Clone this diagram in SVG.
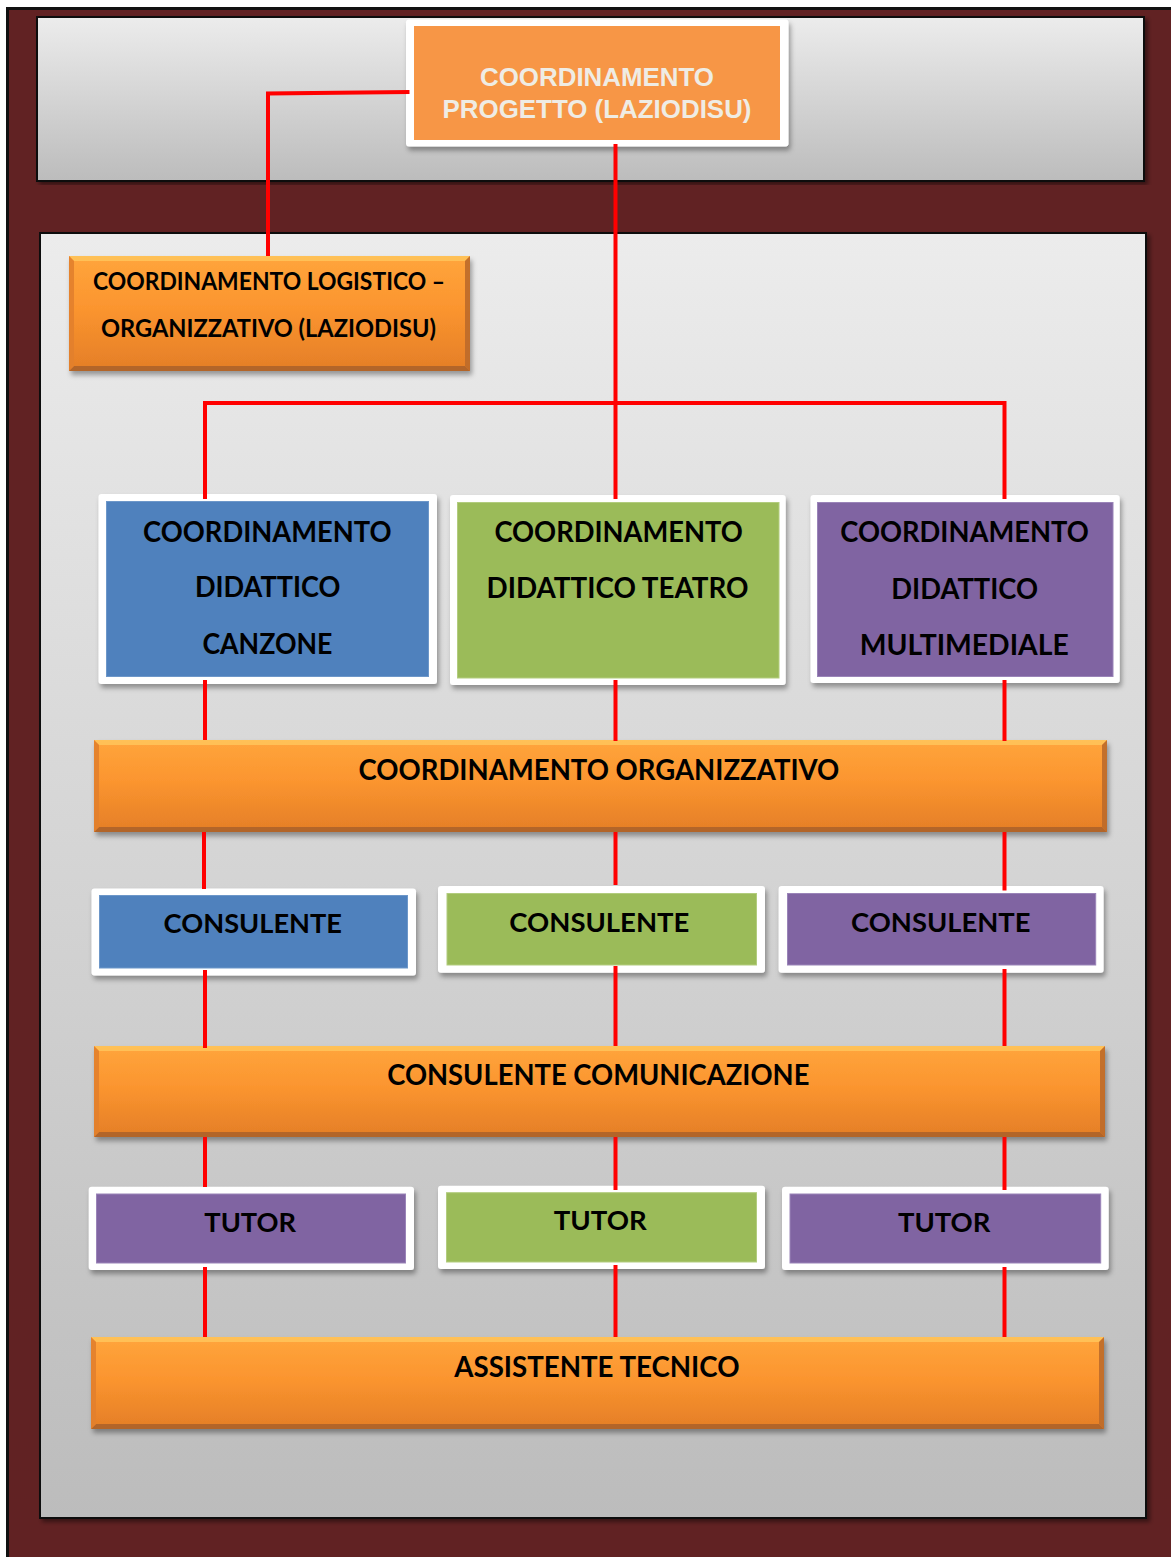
<svg xmlns="http://www.w3.org/2000/svg" width="1171" height="1557" viewBox="0 0 1171 1557">
<defs>
<linearGradient id="panelGrad" x1="0" y1="0" x2="0" y2="1">
<stop offset="0" stop-color="#ececec"/>
<stop offset="1" stop-color="#bcbcbc"/>
</linearGradient>
<linearGradient id="barGrad" x1="0" y1="0" x2="0" y2="1">
<stop offset="0" stop-color="#ffa53c"/>
<stop offset="0.45" stop-color="#fb952f"/>
<stop offset="1" stop-color="#e47e27"/>
</linearGradient>
<filter id="shadow" x="-5%" y="-10%" width="110%" height="130%">
<feDropShadow dx="2" dy="4" stdDeviation="2.5" flood-color="#000" flood-opacity="0.35"/>
</filter>
<filter id="panelShadow" x="-2%" y="-2%" width="104%" height="104%">
<feDropShadow dx="3" dy="3" stdDeviation="2" flood-color="#000" flood-opacity="0.45"/>
</filter>
</defs>
<style>
.panel{fill:url(#panelGrad);stroke:#111;stroke-width:2;filter:url(#panelShadow)}
.frame{fill:#fff;filter:url(#shadow)}
.blue{fill:#4f81bd;stroke:#6d97c9;stroke-width:1}
.green{fill:#9bbb59;stroke:#b2cc7e;stroke-width:1}
.purple{fill:#8064a2;stroke:#9a84b8;stroke-width:1}
.bar{fill:url(#barGrad);filter:url(#shadow)}
.bt{fill:#ffc65c;opacity:0.85}
.bb{fill:#a9602a;opacity:0.85}
.bl{fill:#e2802c;opacity:0.9}
.br{fill:#bd6a2a;opacity:0.9}
.t{font-family:Lato,"Open Sans","Liberation Sans",sans-serif;font-weight:700;fill:#000;text-anchor:middle}
.t24{font-size:24px}
.t27{font-size:27px}
.t28{font-size:28px}
.top{font-family:"Liberation Sans",Arial,sans-serif;font-weight:700;font-size:26px;fill:#efece4;text-anchor:middle}
.conn{fill:none;stroke:#ff0000;stroke-width:4}
</style>
<rect x="0" y="0" width="1171" height="1557" fill="#ffffff"/>
<rect x="7.5" y="8.5" width="1170" height="1560" fill="#612223" stroke="#111" stroke-width="3"/>
<rect class="panel" x="37" y="17" width="1107" height="164"/>
<rect class="panel" x="40" y="233" width="1106" height="1285"/>

<g id="coord-progetto">
<rect class="frame" x="406" y="19.5" width="382.5" height="127" rx="3"/>
<rect x="414" y="26" width="366" height="114" fill="#f79646"/>
<text class="top" x="597" y="86" textLength="234" lengthAdjust="spacingAndGlyphs">COORDINAMENTO</text>
<text class="top" x="597" y="118.3" textLength="309" lengthAdjust="spacingAndGlyphs">PROGETTO (LAZIODISU)</text>
</g>

<g id="coord-logistico">
<rect class="bar" x="69" y="256" width="401" height="115"/>
<polygon class="bt" points="69,256 470,256 465,261 74,261"/>
<polygon class="bb" points="69,371 470,371 465,366 74,366"/>
<polygon class="bl" points="69,256 74,261 74,366 69,371"/>
<polygon class="br" points="470,256 465,261 465,366 470,371"/>
<text class="t t24" x="269" y="290" textLength="352" lengthAdjust="spacingAndGlyphs">COORDINAMENTO LOGISTICO –</text>
<text class="t t24" x="268.5" y="337.3" textLength="335" lengthAdjust="spacingAndGlyphs">ORGANIZZATIVO (LAZIODISU)</text>
</g>

<g id="did-canzone">
<rect class="frame" x="98.5" y="494" width="338.5" height="190" rx="3"/>
<rect class="blue" x="106.5" y="501.5" width="322" height="175"/>
<text class="t t28" x="267.3" y="541.7" textLength="248.4" lengthAdjust="spacingAndGlyphs">COORDINAMENTO</text>
<text class="t t28" x="267.7" y="597.3" textLength="145.5" lengthAdjust="spacingAndGlyphs">DIDATTICO</text>
<text class="t t28" x="267.4" y="654" textLength="130" lengthAdjust="spacingAndGlyphs">CANZONE</text>
</g>

<g id="did-teatro">
<rect class="frame" x="450" y="495" width="335.7" height="190" rx="3"/>
<rect class="green" x="457.5" y="502.5" width="321.5" height="175.5"/>
<text class="t t28" x="618.6" y="542.3" textLength="248.4" lengthAdjust="spacingAndGlyphs">COORDINAMENTO</text>
<text class="t t28" x="617.6" y="598.3" textLength="262" lengthAdjust="spacingAndGlyphs">DIDATTICO TEATRO</text>
</g>

<g id="did-multimediale">
<rect class="frame" x="810.5" y="495" width="309.2" height="188" rx="3"/>
<rect class="purple" x="817.5" y="502.5" width="295.5" height="174"/>
<text class="t t28" x="964.5" y="542.3" textLength="248.4" lengthAdjust="spacingAndGlyphs">COORDINAMENTO</text>
<text class="t t28" x="964.7" y="599" textLength="146.7" lengthAdjust="spacingAndGlyphs">DIDATTICO</text>
<text class="t t28" x="964.2" y="655" textLength="209" lengthAdjust="spacingAndGlyphs">MULTIMEDIALE</text>
</g>

<g id="coord-organizzativo">
<rect class="bar" x="94" y="740" width="1013" height="92"/>
<polygon class="bt" points="94,740 1107,740 1102,745 99,745"/>
<polygon class="bb" points="94,832 1107,832 1102,827 99,827"/>
<polygon class="bl" points="94,740 99,745 99,827 94,832"/>
<polygon class="br" points="1107,740 1102,745 1102,827 1107,832"/>
<text class="t t28" x="598.9" y="780" textLength="480.8" lengthAdjust="spacingAndGlyphs">COORDINAMENTO ORGANIZZATIVO</text>
</g>

<g id="consulente-1">
<rect class="frame" x="91.5" y="888.5" width="324.5" height="87" rx="3"/>
<rect class="blue" x="99.5" y="895.5" width="308" height="72.5"/>
<text class="t t27" x="252.8" y="933.3" textLength="178.4" lengthAdjust="spacingAndGlyphs">CONSULENTE</text>
</g>

<g id="consulente-2">
<rect class="frame" x="438" y="886" width="327" height="86.7" rx="3"/>
<rect class="green" x="447" y="893.5" width="309.5" height="71.5"/>
<text class="t t27" x="599.3" y="931.7" textLength="180" lengthAdjust="spacingAndGlyphs">CONSULENTE</text>
</g>

<g id="consulente-3">
<rect class="frame" x="778.6" y="886" width="325" height="86.7" rx="3"/>
<rect class="purple" x="787.5" y="893.5" width="308.2" height="71.5"/>
<text class="t t27" x="940.7" y="931.7" textLength="179.4" lengthAdjust="spacingAndGlyphs">CONSULENTE</text>
</g>

<g id="consulente-comunicazione">
<rect class="bar" x="94" y="1046" width="1011" height="91"/>
<polygon class="bt" points="94,1046 1105,1046 1100,1051 99,1051"/>
<polygon class="bb" points="94,1137 1105,1137 1100,1132 99,1132"/>
<polygon class="bl" points="94,1046 99,1051 99,1132 94,1137"/>
<polygon class="br" points="1105,1046 1100,1051 1100,1132 1105,1137"/>
<text class="t t28" x="598.3" y="1085" textLength="422.2" lengthAdjust="spacingAndGlyphs">CONSULENTE COMUNICAZIONE</text>
</g>

<g id="tutor-1">
<rect class="frame" x="88.7" y="1186.7" width="325.3" height="83.3" rx="3"/>
<rect class="purple" x="96.5" y="1194" width="309" height="69"/>
<text class="t t27" x="250.2" y="1232" textLength="91.8" lengthAdjust="spacingAndGlyphs">TUTOR</text>
</g>

<g id="tutor-2">
<rect class="frame" x="438" y="1185.7" width="327" height="83.3" rx="3"/>
<rect class="green" x="446.5" y="1192.7" width="310" height="69.3"/>
<text class="t t27" x="600.2" y="1230" textLength="92.9" lengthAdjust="spacingAndGlyphs">TUTOR</text>
</g>

<g id="tutor-3">
<rect class="frame" x="782" y="1186.7" width="326.7" height="83.3" rx="3"/>
<rect class="purple" x="790" y="1194" width="310.7" height="69"/>
<text class="t t27" x="944.2" y="1232.3" textLength="92.5" lengthAdjust="spacingAndGlyphs">TUTOR</text>
</g>

<g id="assistente-tecnico">
<rect class="bar" x="91" y="1337" width="1013" height="92"/>
<polygon class="bt" points="91,1337 1104,1337 1099,1342 96,1342"/>
<polygon class="bb" points="91,1429 1104,1429 1099,1424 96,1424"/>
<polygon class="bl" points="91,1337 96,1342 96,1424 91,1429"/>
<polygon class="br" points="1104,1337 1099,1342 1099,1424 1104,1429"/>
<text class="t t28" x="596.9" y="1376.7" textLength="285.3" lengthAdjust="spacingAndGlyphs">ASSISTENTE TECNICO</text>
</g>

<g id="connectors">
<polyline class="conn" points="409.5,92 268,93.5 268,256"/>
<line class="conn" x1="615.5" y1="144" x2="615.5" y2="499"/>
<polyline class="conn" points="205,499 205,403 1004.5,403 1004.5,499"/>
<line class="conn" x1="205" y1="680" x2="205" y2="740"/>
<line class="conn" x1="615.5" y1="680" x2="615.5" y2="741"/>
<line class="conn" x1="1004.5" y1="680" x2="1004.5" y2="741"/>
<line class="conn" x1="204" y1="832" x2="204" y2="889"/>
<line class="conn" x1="615.5" y1="832" x2="615.5" y2="885"/>
<line class="conn" x1="1004.5" y1="832" x2="1004.5" y2="890.5"/>
<line class="conn" x1="205" y1="970" x2="205" y2="1048"/>
<line class="conn" x1="615.5" y1="966" x2="615.5" y2="1046"/>
<line class="conn" x1="1004.5" y1="969" x2="1004.5" y2="1046"/>
<line class="conn" x1="205" y1="1137" x2="205" y2="1187"/>
<line class="conn" x1="615.5" y1="1137" x2="615.5" y2="1190"/>
<line class="conn" x1="1004.5" y1="1137" x2="1004.5" y2="1190"/>
<line class="conn" x1="205" y1="1267" x2="205" y2="1337"/>
<line class="conn" x1="615.5" y1="1265" x2="615.5" y2="1337"/>
<line class="conn" x1="1004.5" y1="1267" x2="1004.5" y2="1337"/>
</g>
</svg>
